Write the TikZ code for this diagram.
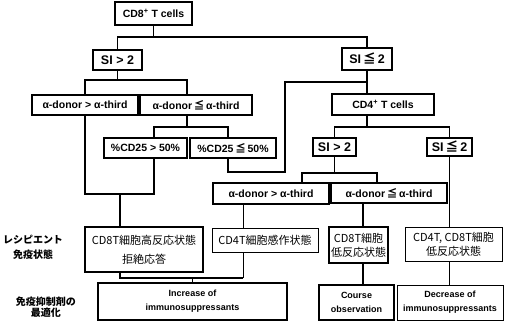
\documentclass[tikz,border=0pt]{standalone}
\usepackage{fontspec}
\setmainfont{Liberation Sans}
\newfontfamily\jp{Noto Sans CJK JP}
\newcommand{\jle}{{\jp ≦}}

\begin{document}
\begin{tikzpicture}[x=1pt, y=-1pt,
          box/.style={rectangle, draw, line width=1.1pt, inner sep=0pt, align=center, font=\bfseries\fontsize{10.5}{12}\selectfont},
          thinbox/.style={line width=0.7pt},
          sibox/.style={box, font=\bfseries\fontsize{12.5}{14}\selectfont},
          jbox/.style={box, font=\jp\fontsize{11}{14}\selectfont},
          endbox/.style={box, font=\bfseries\fontsize{9}{14}\selectfont},
          sidetext/.style={font=\jp\bfseries\fontsize{10}{15}\selectfont, align=center},
          conn/.style={line width=1.5pt},
          thinconn/.style={line width=0.8pt}]
          \useasboundingbox (0,0) rectangle (506,326);

          \node[box, minimum width=77pt, minimum height=23pt] (cd8) at (153.5,13.5) {CD8\textsuperscript{+} T cells};
          \node[sibox, minimum width=49pt, minimum height=20pt] (siA) at (117.5,60) {SI > 2};
          \node[sibox, minimum width=50pt, minimum height=22pt] (siB) at (367,59) {SI\,\jle\,2};
          \node[box, minimum width=106pt, minimum height=20pt] (aL) at (85,105) {α-donor > α-third};
          \node[box, minimum width=112pt, minimum height=20pt] (aR) at (196,105) {α-donor\,\jle\,α-third};
          \node[box, minimum width=83pt, minimum height=20pt] (c25A) at (145.5,148) {\%CD25 > 50\%};
          \node[box, minimum width=86pt, minimum height=20pt] (c25B) at (233,148) {\%CD25\,\jle\,50\%};
          \node[box, minimum width=102pt, minimum height=21pt] (cd4) at (383,104.5) {CD4\textsuperscript{+} T cells};
          \node[sibox, minimum width=43pt, minimum height=18pt] (siC) at (334.5,147) {SI > 2};
          \node[sibox, minimum width=45pt, minimum height=18pt] (siD) at (449.5,147) {SI\,\jle\,2};
          \node[box, minimum width=116pt, minimum height=21pt] (bL) at (271,193.5) {α-donor > α-third};
          \node[box, minimum width=116pt, minimum height=20pt] (bR) at (389,193) {α-donor\,\jle\,α-third};

          \node[jbox, minimum width=118pt, minimum height=45pt] (hi) at (144,249.5) {CD8T細胞高反応状態\\[5pt]拒絶応答};
          \node[jbox, thinbox, minimum width=106pt, minimum height=24pt] (sens) at (265,240) {CD4T細胞感作状態};
          \node[jbox, minimum width=59pt, minimum height=36pt] (lo) at (358.5,245) {CD8T細胞\\低反応状態};
          \node[jbox, thinbox, minimum width=97pt, minimum height=34pt] (both) at (453.5,244) {CD4T, CD8T細胞\\低反応状態};

          \node[endbox, minimum width=189pt, minimum height=37pt] (inc) at (192.5,301.5) {Increase of\\immunosuppressants};
          \node[endbox, minimum width=75pt, minimum height=35pt] (obs) at (356.5,302.5) {Course\\observation};
          \node[endbox, thinbox, minimum width=106pt, minimum height=35pt] (dec) at (450,302.5) {Decrease of\\immunosuppressants};

          \node[sidetext] (recip) at (33,247) {レシピエント\\免疫状態};
          \node[sidetext] (optim) at (46,307) {免疫抑制剤の\\[-4pt]最適化};

          % CD8 T cells
          \coordinate (f1) at (153.5,37);
          \draw[conn] (cd8) -- (f1);
          \draw[conn] (siA) |- (f1) -| (siB);

          \coordinate (f2) at (117.5,80);
          \draw[conn] (siA) -- (f2);
          \draw[conn] (aL) |- (f2) -| ([xshift=-9pt]aR.north);

          \coordinate (aRs) at ([xshift=-9pt]aR.south);
          \coordinate (f3) at (187,127);
          \draw[conn] (aRs) -- (f3);
          \draw[conn] ([xshift=8.5pt]c25A.north) |- (f3) -| ([xshift=-5pt]c25B.north);

          \coordinate (c25As) at ([xshift=8.5pt]c25A.south);
          \coordinate (f4) at (120,194);
          \draw[conn] (aL) |- (c25As |- f4) -- (c25As);
          \draw[conn] (f4) -- (f4 |- hi.north);

          % %CD25 low goes on to CD4
          \coordinate (c25Bs) at ([xshift=-5pt]c25B.south);
          \coordinate (f5) at (285,172);
          \coordinate (f6) at (367,82);
          \draw[conn] (c25Bs) |- (f5) |- (f6);
          \draw[conn] (siB) -- (siB |- cd4.north);

          % CD4 T cells
          \coordinate (f7) at (367,127);
          \draw[conn] (siB |- cd4.south) -- (f7);
          \draw[conn] (siC) |- (f7) -| (siD);

          \coordinate (f8) at (334.5,173);
          \draw[conn] (siC) -- (f8);
          \draw[conn] ([xshift=31pt]bL.north) |- (f8) -| ([xshift=-12pt]bR.north);

          \coordinate (bLs) at ([xshift=-28pt]bL.south);
          \coordinate (bRs) at ([xshift=-26pt]bR.south);
          \draw[thinconn] (bLs) -- (bLs |- sens.north);
          \draw[conn] (bRs) -- (bRs |- lo.north);
          \draw[conn] (bRs |- lo.south) -- (bRs |- obs.north);
          \draw[conn] (siD) -- (siD |- both.north);
          \draw[thinconn] (siD |- both.south) -- (siD |- dec.north);

          % into the increase box
          \coordinate (f9) at (192.5,278);
          \draw[conn] (f4 |- hi.south) |- (bLs |- f9);
          \draw[thinconn] (bLs |- f9) -- (bLs |- sens.south);
          \draw[conn] (f9) -- (f9 |- inc.north);
        \end{tikzpicture}
\end{document}
